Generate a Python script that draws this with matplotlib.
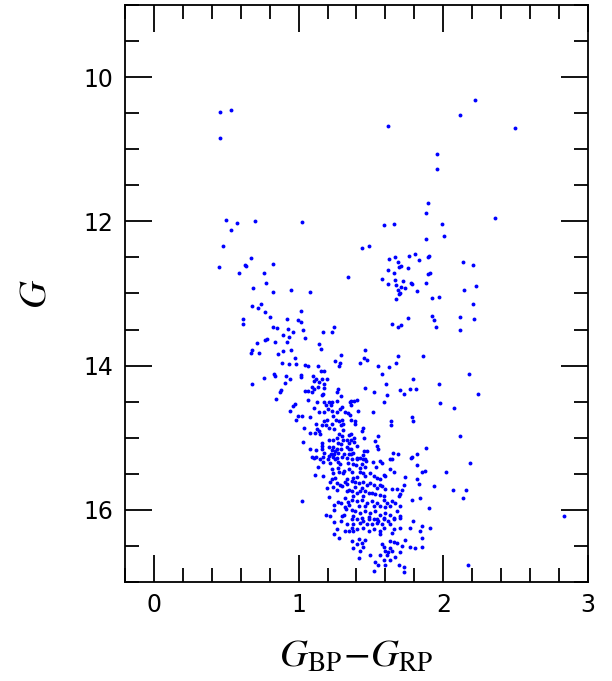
import matplotlib
matplotlib.use('Agg')
import matplotlib.pyplot as plt
from matplotlib.ticker import MultipleLocator

# (BP-RP, G), grouped by region of the diagram
bright = [
    (0.457, 10.49), (0.531, 10.45), (0.455, 10.84), (1.621, 10.68), (0.496, 11.98),
    (0.574, 12.02), (0.535, 12.12), (0.701, 12.00), (1.026, 12.01), (2.217, 10.32),
    (2.118, 10.53), (2.493, 10.70), (1.954, 11.06), (1.958, 11.28), (2.355, 11.95),
    (1.896, 11.74), (1.882, 11.88), (1.590, 12.05), (1.656, 12.03), (1.988, 12.04),
    (2.005, 12.21), (1.878, 12.24), (1.435, 12.37), (1.486, 12.34), (1.626, 12.52),
    (1.666, 12.49), (1.765, 12.48), (1.801, 12.45), (1.829, 12.53), (1.891, 12.50),
    (1.903, 12.48), (1.687, 12.57), (1.693, 12.63), (1.705, 12.62), (1.758, 12.65),
    (1.615, 12.68), (1.661, 12.71), (1.891, 12.73), (1.905, 12.72), (2.134, 12.57),
    (2.206, 12.60), (1.338, 12.77), (1.573, 12.80), (1.615, 12.87), (1.666, 12.82),
    (1.673, 12.88), (1.723, 12.83), (1.774, 12.85), (1.781, 12.87), (1.880, 12.86),
    (1.707, 12.91), (1.735, 12.93), (1.684, 12.95), (1.702, 12.99), (1.693, 13.01),
    (1.820, 12.96), (1.673, 13.07), (1.919, 13.06), (1.970, 13.05), (2.143, 12.95),
    (2.226, 12.90), (1.082, 12.98), (2.203, 13.15), (1.172, 13.54), (1.232, 13.54),
    (1.248, 13.46), (1.753, 13.34), (1.642, 13.42), (1.684, 13.47), (1.707, 13.44),
    (1.919, 13.31), (1.936, 13.37), (1.947, 13.47), (2.113, 13.32), (2.210, 13.36),
    (2.113, 13.51),
    (0.480, 12.34), (0.669, 12.51), (0.452, 12.63), (0.628, 12.60), (0.639, 12.62),
    (0.826, 12.59), (0.586, 12.72), (0.763, 12.72), (0.777, 12.85), (0.685, 12.93),
    (0.826, 12.98), (0.948, 12.95), (0.738, 13.14), (0.680, 13.18), (0.720, 13.20),
    (0.770, 13.25), (1.015, 13.24), (0.803, 13.32), (0.616, 13.36), (0.618, 13.43),
    (0.920, 13.35), (0.997, 13.37), (1.019, 13.40), (0.824, 13.46), (0.853, 13.48),
    (0.929, 13.49), (1.033, 13.50), (0.960, 13.54), (0.891, 13.58), (0.936, 13.60),
    (0.782, 13.63), (0.770, 13.65), (1.043, 13.62), (0.715, 13.68), (0.678, 13.78),
    (0.673, 13.83), (0.729, 13.82), (0.761, 14.17), (0.678, 14.26),
]

turnoff = [
    (0.839, 13.67), (0.918, 13.67), (1.144, 13.70), (1.156, 13.77), (0.946, 13.78),
    (0.895, 13.80), (0.860, 13.84), (1.292, 13.85), (0.974, 13.89), (1.255, 13.94),
    (1.285, 13.96), (1.282, 14.00), (0.884, 13.96), (0.936, 13.98), (0.981, 13.98),
    (1.045, 13.99), (1.068, 14.01), (1.137, 14.00), (1.154, 14.08), (1.176, 14.08),
    (0.833, 14.12), (0.837, 14.15), (0.911, 14.15), (1.019, 14.13), (1.015, 14.16),
    (1.102, 14.14), (0.941, 14.19), (0.904, 14.24), (1.123, 14.18), (1.163, 14.18),
    (1.197, 14.18), (1.109, 14.22), (1.142, 14.23), (1.179, 14.25), (1.091, 14.29),
    (1.137, 14.30), (1.179, 14.31), (1.273, 14.32), (1.266, 14.36), (0.879, 14.34),
    (0.870, 14.36), (1.043, 14.35), (1.064, 14.35), (1.096, 14.36), (1.107, 14.33),
    (1.172, 14.39), (1.165, 14.41), (1.296, 14.42), (0.844, 14.46), (1.064, 14.47),
    (1.126, 14.50), (1.179, 14.50), (1.211, 14.51), (1.234, 14.51), (1.264, 14.49),
    (1.352, 14.50), (0.974, 14.53), (0.962, 14.56), (1.190, 14.54), (1.225, 14.54),
    (1.301, 14.58), (1.289, 14.60), (1.105, 14.59), (1.204, 14.60), (0.943, 14.63),
    (1.144, 14.64), (1.179, 14.64), (1.232, 14.63), (1.262, 14.65), (1.324, 14.64),
    (1.340, 14.66), (1.352, 14.68), (0.999, 14.70), (1.026, 14.70), (1.080, 14.71),
    (1.241, 14.70), (0.981, 14.75), (1.257, 14.75), (1.278, 14.77), (1.301, 14.76),
    (1.179, 14.77), (1.199, 14.75), (1.121, 14.81), (1.161, 14.82), (1.188, 14.83),
    (1.232, 14.81), (1.292, 14.82), (1.310, 14.81), (1.040, 14.86), (1.126, 14.88),
    (1.213, 14.87), (1.248, 14.88), (1.306, 14.89), (1.142, 14.91), (1.082, 14.94),
    (1.116, 14.94), (1.149, 14.95), (1.280, 14.95), (1.301, 14.97), (1.345, 14.96),
    (1.262, 15.00), (1.213, 15.03), (1.241, 15.03), (1.308, 15.03), (1.336, 15.03),
    (1.033, 15.06), (1.165, 15.08), (1.275, 15.08), (1.294, 15.09), (1.349, 15.08),
    (1.163, 15.12), (1.209, 15.13), (1.241, 15.13), (1.264, 15.15), (1.294, 15.15),
    (1.331, 15.13), (1.080, 15.16), (1.121, 15.17), (1.165, 15.16), (1.232, 15.17),
    (1.255, 15.18), (1.349, 15.16), (1.176, 15.21), (1.227, 15.22), (1.248, 15.22),
    (1.269, 15.21), (1.313, 15.22), (1.345, 15.22), (1.096, 15.27), (1.123, 15.27),
    (1.172, 15.27), (1.211, 15.26), (1.237, 15.27), (1.264, 15.28), (1.301, 15.27),
    (1.334, 15.28),
    (1.462, 13.78), (1.455, 13.90), (1.476, 13.92), (1.421, 13.96), (1.684, 13.86),
    (1.862, 13.86), (1.675, 13.97), (1.552, 14.01), (1.628, 14.02), (1.576, 14.12),
    (1.788, 14.19), (1.601, 14.26), (1.462, 14.31), (1.698, 14.34), (1.770, 14.33),
    (1.813, 14.32), (1.522, 14.36), (1.728, 14.40), (1.612, 14.41), (1.365, 14.49),
    (1.384, 14.49), (1.405, 14.47), (1.365, 14.55), (1.587, 14.51), (1.407, 14.63),
    (1.514, 14.65), (1.781, 14.71), (1.788, 14.77), (1.365, 14.76), (1.391, 14.77),
    (1.393, 14.81), (1.635, 14.77), (1.635, 14.83), (1.442, 14.86), (1.439, 14.91),
    (1.363, 14.95), (1.451, 15.00), (1.550, 14.98), (1.386, 15.00), (1.363, 15.03),
    (1.386, 15.06), (1.529, 15.04), (1.541, 15.11), (1.403, 15.12), (1.365, 15.15),
    (1.550, 15.16), (1.882, 15.14), (1.453, 15.18), (1.476, 15.19), (1.375, 15.21),
    (1.363, 15.23), (1.649, 15.21), (1.689, 15.22), (1.820, 15.22), (1.448, 15.24),
    (1.405, 15.28), (1.426, 15.28), (1.462, 15.29), (1.642, 15.29), (1.781, 15.27),
    (2.180, 14.12), (1.967, 14.25), (2.240, 14.40), (1.977, 14.52), (2.074, 14.59),
    (2.113, 14.97), (2.182, 15.35), (2.016, 15.47), (1.938, 15.67), (2.064, 15.73),
    (2.159, 15.73), (2.138, 15.84), (2.833, 16.09), (2.173, 16.77),
]

lower = [
    (1.105, 15.28), (1.149, 15.29), (1.172, 15.34), (1.206, 15.30), (1.218, 15.35),
    (1.251, 15.30), (1.269, 15.33), (1.285, 15.37), (1.338, 15.35), (1.133, 15.40),
    (1.234, 15.43), (1.271, 15.42), (1.315, 15.46), (1.347, 15.44), (1.237, 15.49),
    (1.282, 15.48), (1.306, 15.49), (1.116, 15.51), (1.167, 15.53), (1.336, 15.57),
    (1.232, 15.57), (1.253, 15.56), (1.218, 15.62), (1.264, 15.63), (1.320, 15.62),
    (1.331, 15.64), (1.199, 15.70), (1.241, 15.68), (1.285, 15.66), (1.301, 15.67),
    (1.266, 15.73), (1.345, 15.73), (1.331, 15.74), (1.209, 15.82), (1.320, 15.83),
    (1.024, 15.88), (1.248, 15.93), (1.275, 15.89), (1.294, 15.91), (1.338, 15.89),
    (1.347, 15.93), (1.244, 16.00), (1.322, 15.96), (1.329, 15.99), (1.190, 16.07),
    (1.220, 16.09), (1.299, 16.09), (1.313, 16.07), (1.248, 16.17), (1.294, 16.15),
    (1.334, 16.20), (1.264, 16.26), (1.320, 16.30), (1.349, 16.29), (1.248, 16.34),
    (1.282, 16.39),
    (1.368, 15.30), (1.403, 15.30), (1.448, 15.29), (1.465, 15.32), (1.514, 15.33),
    (1.559, 15.32), (1.576, 15.35), (1.633, 15.30), (1.779, 15.28), (1.379, 15.36),
    (1.398, 15.38), (1.437, 15.37), (1.460, 15.40), (1.421, 15.42), (1.536, 15.41),
    (1.818, 15.38), (1.633, 15.44), (1.656, 15.48), (1.871, 15.46), (1.855, 15.48),
    (1.368, 15.47), (1.426, 15.47), (1.448, 15.49), (1.490, 15.49), (1.522, 15.53),
    (1.587, 15.51), (1.599, 15.53), (1.541, 15.56), (1.564, 15.57), (1.403, 15.54),
    (1.379, 15.56), (1.460, 15.53), (1.737, 15.55), (1.818, 15.57), (1.829, 15.64),
    (1.368, 15.60), (1.391, 15.61), (1.414, 15.63), (1.448, 15.61), (1.472, 15.65),
    (1.495, 15.63), (1.518, 15.66), (1.559, 15.65), (1.576, 15.67), (1.594, 15.71),
    (1.645, 15.71), (1.680, 15.71), (1.714, 15.72), (1.725, 15.65), (1.437, 15.70),
    (1.391, 15.69), (1.541, 15.70), (1.368, 15.74), (1.403, 15.77), (1.426, 15.74),
    (1.460, 15.74), (1.483, 15.77), (1.507, 15.76), (1.529, 15.78), (1.564, 15.79),
    (1.448, 15.81), (1.379, 15.81), (1.587, 15.81), (1.691, 15.81), (1.702, 15.78),
    (1.783, 15.87), (1.841, 15.83), (1.368, 15.86), (1.403, 15.88), (1.437, 15.87),
    (1.472, 15.90), (1.507, 15.88), (1.541, 15.90), (1.587, 15.86), (1.610, 15.90),
    (1.645, 15.88), (1.668, 15.90), (1.414, 15.95), (1.460, 15.95), (1.518, 15.95),
    (1.564, 15.94), (1.599, 15.96), (1.633, 15.95), (1.702, 15.94), (1.368, 16.00),
    (1.391, 16.02), (1.426, 16.04), (1.460, 16.02), (1.495, 16.04), (1.529, 16.02),
    (1.564, 16.07), (1.599, 16.04), (1.633, 16.07), (1.680, 16.02), (1.698, 16.09),
    (1.898, 15.98), (1.379, 16.09), (1.437, 16.11), (1.483, 16.10), (1.541, 16.12),
    (1.587, 16.11), (1.656, 16.11),
    (1.368, 16.13), (1.403, 16.12), (1.448, 16.15), (1.483, 16.13), (1.518, 16.12),
    (1.552, 16.15), (1.587, 16.13), (1.621, 16.16), (1.656, 16.13), (1.698, 16.11),
    (1.790, 16.16), (1.379, 16.19), (1.426, 16.18), (1.472, 16.19), (1.507, 16.20),
    (1.541, 16.18), (1.576, 16.19), (1.633, 16.20), (1.368, 16.25), (1.403, 16.27),
    (1.448, 16.25), (1.483, 16.29), (1.518, 16.27), (1.564, 16.29), (1.587, 16.25),
    (1.656, 16.27), (1.702, 16.25), (1.853, 16.23), (1.910, 16.25), (1.772, 16.25),
    (1.645, 16.32), (1.564, 16.34), (1.379, 16.30), (1.836, 16.30), (1.368, 16.43),
    (1.414, 16.41), (1.437, 16.46), (1.460, 16.42), (1.403, 16.48), (1.576, 16.48),
    (1.633, 16.43), (1.656, 16.44), (1.680, 16.46), (1.737, 16.42), (1.853, 16.39),
    (1.714, 16.50), (1.772, 16.52), (1.806, 16.53), (1.853, 16.52), (1.633, 16.53),
    (1.587, 16.52), (1.448, 16.52), (1.379, 16.53), (1.426, 16.57), (1.599, 16.57),
    (1.621, 16.59), (1.645, 16.57), (1.564, 16.62), (1.610, 16.63), (1.702, 16.59),
    (1.490, 16.63), (1.414, 16.67), (1.633, 16.69), (1.668, 16.66), (1.529, 16.72),
    (1.552, 16.76), (1.587, 16.69), (1.599, 16.76), (1.691, 16.76), (1.725, 16.79),
    (1.725, 16.86), (1.522, 16.85),
]

plt.rcParams['mathtext.fontset'] = 'stix'

fig = plt.figure(figsize=(6.12, 6.81), dpi=100)
ax = fig.add_axes([0.204, 0.1454, 0.757, 0.8473])

for group in (bright, turnoff, lower):
    bp_rp, g_mag = zip(*group)
    ax.plot(bp_rp, g_mag, 'o', color='blue', ms=2.8, mew=0)

ax.set_xlim(-0.2, 3.0)
ax.set_ylim(17.0, 9.0)

ax.xaxis.set_major_locator(MultipleLocator(1))
ax.xaxis.set_minor_locator(MultipleLocator(0.2))
ax.yaxis.set_major_locator(MultipleLocator(2))
ax.yaxis.set_minor_locator(MultipleLocator(0.5))

ax.tick_params(which='both', direction='in', top=True, right=True,
               width=1.3, labelsize=17, pad=8)
ax.tick_params(which='major', length=19.5)
ax.tick_params(which='minor', length=10)
for sp in ax.spines.values():
    sp.set_linewidth(1.3)

ax.set_xlabel(r'$G_{\rm BP}\!-\!G_{\rm RP}$', fontsize=28, labelpad=14)
ax.set_ylabel(r'$G$', fontsize=28, labelpad=22)

fig.savefig('out.png', dpi=100)
